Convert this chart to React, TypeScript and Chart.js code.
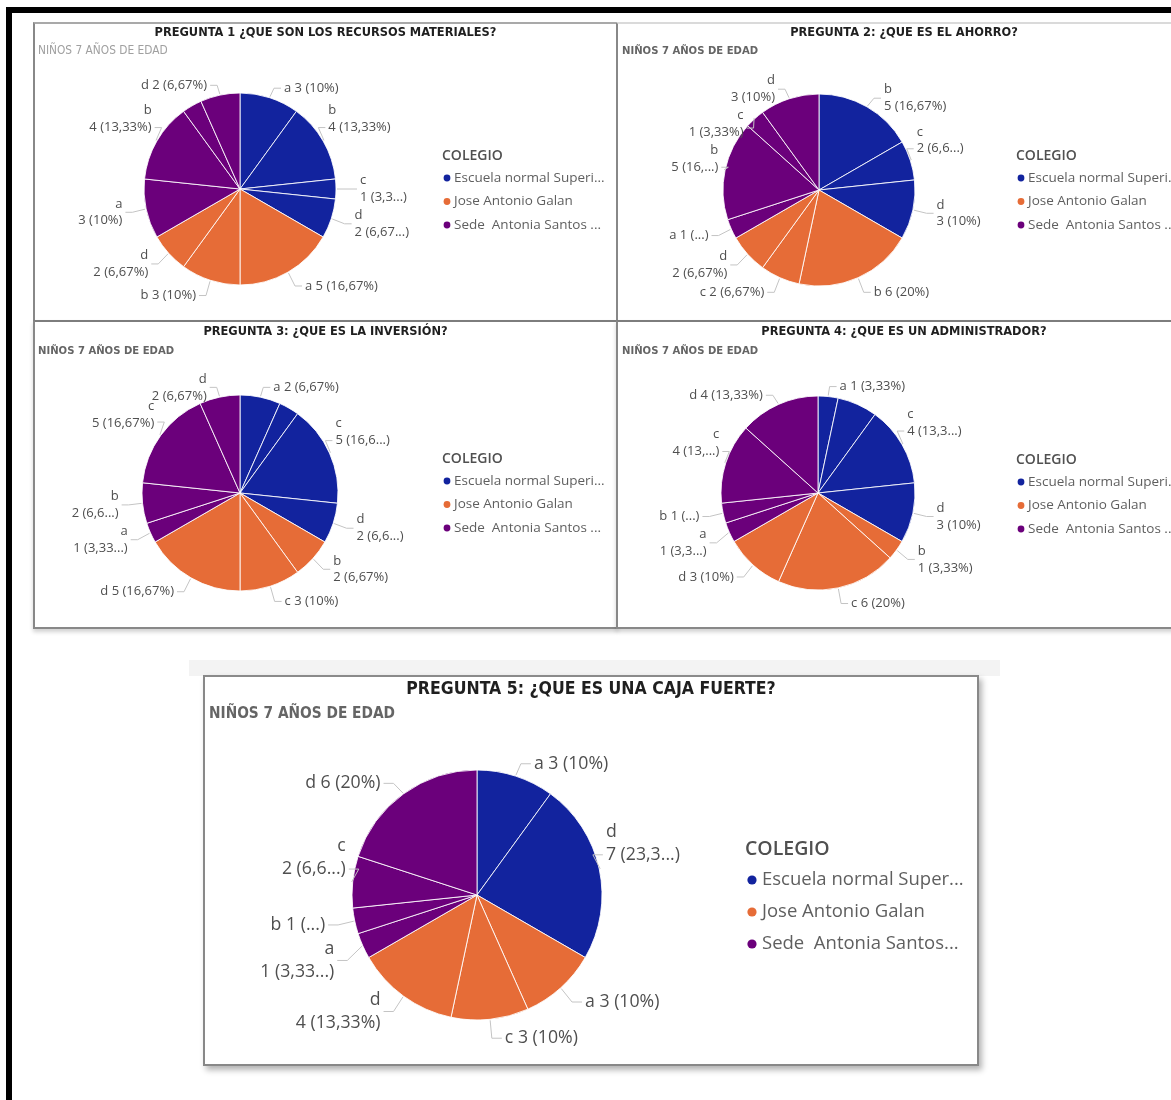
import React, { useEffect, useRef } from 'react';
import { Chart, registerables } from 'chart.js';

Chart.register(...registerables);

// ---------------- DATA ----------------
const COLORS = ['#12239E', '#E66C37', '#6B007B'];
const schools = ['Escuela normal Superi...', 'Jose Antonio Galan', 'Sede  Antonia Santos ...'];
const schools5 = ['Escuela normal Super...', 'Jose Antonio Galan', 'Sede  Antonia Santos...'];
const legendTitle = 'COLEGIO';
const subtitleText = 'NIÑOS 7 AÑOS DE EDAD';
const titles = [
  'PREGUNTA 1 ¿QUE SON LOS RECURSOS MATERIALES?',
  'PREGUNTA 2: ¿QUE ES EL AHORRO?',
  'PREGUNTA 3: ¿QUE ES LA INVERSIÓN?',
  'PREGUNTA 4: ¿QUE ES UN ADMINISTRADOR?',
  'PREGUNTA 5: ¿QUE ES UNA CAJA FUERTE?',
];

const cats1 = ['a', 'b', 'c', 'd', 'a', 'b', 'd', 'a', 'b', 'c', 'd'];
const school1 = [0, 0, 0, 0, 1, 1, 1, 2, 2, 2, 2];
const values1 = [3, 4, 1, 2, 5, 3, 2, 3, 4, 1, 2];
const labels1 = ['a 3 (10%)', 'b\n4 (13,33%)', 'c\n1 (3,3...)', 'd\n2 (6,67...)', 'a 5 (16,67%)', 'b 3 (10%)', 'd\n2 (6,67%)', 'a\n3 (10%)', 'b\n4 (13,33%)', '', 'd 2 (6,67%)'];

const cats2 = ['b', 'c', 'd', 'b', 'c', 'd', 'a', 'b', 'c', 'd'];
const school2 = [0, 0, 0, 1, 1, 1, 2, 2, 2, 2];
const values2 = [5, 2, 3, 6, 2, 2, 1, 5, 1, 3];
const labels2 = ['b\n5 (16,67%)', 'c\n2 (6,6...)', 'd\n3 (10%)', 'b 6 (20%)', 'c 2 (6,67%)', 'd\n2 (6,67%)', 'a 1 (...)', 'b\n5 (16,...)', 'c\n1 (3,33%)', 'd\n3 (10%)'];

const cats3 = ['a', 'b', 'c', 'd', 'b', 'c', 'd', 'a', 'b', 'c', 'd'];
const school3 = [0, 0, 0, 0, 1, 1, 1, 2, 2, 2, 2];
const values3 = [2, 1, 5, 2, 2, 3, 5, 1, 2, 5, 2];
const labels3 = ['a 2 (6,67%)', '', 'c\n5 (16,6...)', 'd\n2 (6,6...)', 'b\n2 (6,67%)', 'c 3 (10%)', 'd 5 (16,67%)', 'a\n1 (3,33...)', 'b\n2 (6,6...)', 'c\n5 (16,67%)', 'd\n2 (6,67%)'];

const cats4 = ['a', 'b', 'c', 'd', 'b', 'c', 'd', 'a', 'b', 'c', 'd'];
const school4 = [0, 0, 0, 0, 1, 1, 1, 2, 2, 2, 2];
const values4 = [1, 2, 4, 3, 1, 6, 3, 1, 1, 4, 4];
const labels4 = ['a 1 (3,33%)', '', 'c\n4 (13,3...)', 'd\n3 (10%)', 'b\n1 (3,33%)', 'c 6 (20%)', 'd 3 (10%)', 'a\n1 (3,3...)', 'b 1 (...)', 'c\n4 (13,...)', 'd 4 (13,33%)'];

const cats5 = ['a', 'd', 'a', 'c', 'd', 'a', 'b', 'c', 'd'];
const school5 = [0, 0, 1, 1, 1, 2, 2, 2, 2];
const values5 = [3, 7, 3, 3, 4, 1, 1, 2, 6];
const labels5 = ['a 3 (10%)', 'd\n7 (23,3...)', 'a 3 (10%)', 'c 3 (10%)', 'd\n4 (13,33%)', 'a\n1 (3,33...)', 'b 1 (...)', 'c\n2 (6,6...)', 'd 6 (20%)'];

// ---------------- STYLE ----------------
const COND = "'DejaVu Sans Condensed', 'Liberation Sans Narrow', 'Roboto Condensed', 'DejaVu Sans', sans-serif";
const BODY = "'Open Sans', 'Noto Sans', sans-serif";

const small = {
  titleFont: `bold 12.7px ${COND}`,
  subFont: `bold 11.2px ${COND}`,
  subColor: '#656565',
  labelFS: 13,
  off: 14,
  gap: 10,
  legTitleFont: `600 14px ${BODY}`,
  legFont: `13.5px ${BODY}`,
  legFirst: 22,
  legStep: 23.5,
  dotDx: 5,
  dotR: 3.4,
  textDx: 12,
};

const panels = [
  { ...small, left: 33, top: 22, w: 585, h: 300, bt: '#a9a9a9', shadow: 'none', title: titles[0], cats: cats1, sch: school1, vals: values1, labs: labels1, names: schools, titleY: 9, subX: 3, subY: 27, subFont: `11.8px ${COND}`, subColor: '#a0a0a0', cx: 205, cy: 165, r: 96, legX: 407, legTitleY: 132 },
  { ...small, left: 616, top: 22, w: 576, h: 300, bt: '#dadada', shadow: 'none', title: titles[1], cats: cats2, sch: school2, vals: values2, labs: labels2, names: schools, titleY: 9, subX: 4, subY: 27, cx: 201, cy: 166, r: 96, legX: 398, legTitleY: 132 },
  { ...small, left: 33, top: 320, w: 585, h: 309, bt: '#7d7d7d', shadow: '0 3px 4px rgba(0,0,0,0.18)', title: titles[2], cats: cats3, sch: school3, vals: values3, labs: labels3, names: schools, titleY: 10, subX: 3, subY: 29, cx: 205, cy: 171, r: 98, legX: 407, legTitleY: 137 },
  { ...small, left: 616, top: 320, w: 576, h: 309, bt: '#7d7d7d', shadow: '0 3px 4px rgba(0,0,0,0.18)', title: titles[3], cats: cats4, sch: school4, vals: values4, labs: labels4, names: schools, titleY: 10, subX: 4, subY: 29, cx: 200, cy: 171, r: 97, legX: 398, legTitleY: 138 },
  {
    left: 203, top: 675, w: 776, h: 391, bt: '#8a8a8a', shadow: '3px 4px 6px rgba(0,0,0,0.3)',
    title: titles[4], cats: cats5, sch: school5, vals: values5, labs: labels5, names: schools5,
    titleFont: `bold 17.5px ${COND}`, titleY: 12,
    subFont: `bold 15.3px ${COND}`, subColor: '#656565', subX: 4, subY: 37,
    cx: 272, cy: 218, r: 125, labelFS: 17.7, off: 17, gap: 13,
    legX: 540, legTitleY: 172, legTitleFont: `600 19.5px ${BODY}`, legFont: `18.5px ${BODY}`,
    legFirst: 31, legStep: 32, dotDx: 7, dotR: 4.6, textDx: 17,
  },
];

// ---------------- PLUGINS ----------------
const outLabels = {
  id: 'outLabels',
  afterDatasetsDraw(chart: any, _args: any, o: any) {
    const ctx = chart.ctx;
    const meta = chart.getDatasetMeta(0);
    const texts: string[] = o.texts || [];
    const fs = o.fontSize;
    const lh = fs * 1.3;
    ctx.save();
    ctx.font = `${fs}px ${BODY}`;
    const items: any[] = [];
    meta.data.forEach((arc: any, i: number) => {
      const t = texts[i];
      if (!t) return;
      const p = arc.getProps(['x', 'y', 'startAngle', 'endAngle', 'outerRadius'], true);
      const mid = (p.startAngle + p.endAngle) / 2;
      const c = Math.cos(mid);
      const s = Math.sin(mid);
      const R = p.outerRadius;
      const lines = t.split('\n');
      const h = lines.length * lh;
      const right = c >= 0;
      const dir = right ? 1 : -1;
      const upper = s < -0.05;
      const offY = upper ? o.off - 4 : o.off + 2;
      const k = Math.min(1, Math.max(0, (Math.abs(c) - 0.5) / 0.35));
      const shift = upper && lines.length > 1 ? (h / 2) * k : 0;
      const ax = p.x + (R + o.off) * c - dir * shift;
      const ay = p.y + (R + offY) * s;
      const tx = ax + dir * o.gap;
      const wMax = Math.max(...lines.map((ln: string) => ctx.measureText(ln).width));
      const x1 = right ? tx : tx - wMax;
      const x2 = right ? tx + wMax : tx;
      items.push({ lines, h, ax, ay, right, dir, shift, tx, x1, x2, cy: ay - shift, x0: p.x + (R + 1) * c, y0: p.y + (R + 1) * s });
    });
    for (const side of [true, false]) {
      const grp = items.filter((it) => it.right === side).sort((a, b) => a.cy - b.cy);
      for (let kk = 1; kk < grp.length; kk++) {
        const cur = grp[kk];
        for (let j = 0; j < kk; j++) {
          const prev = grp[j];
          const ov = Math.min(prev.x2, cur.x2) - Math.max(prev.x1, cur.x1);
          if (ov <= 8) continue;
          const minC = prev.cy + prev.h / 2 + cur.h / 2 + 1;
          if (cur.cy < minC) cur.cy = minC;
        }
      }
    }
    ctx.textBaseline = 'middle';
    for (const it of items) {
      const ly = it.cy + it.shift / 2;
      ctx.strokeStyle = '#c4c4c4';
      ctx.lineWidth = 1;
      ctx.beginPath();
      ctx.moveTo(it.x0, it.y0);
      ctx.lineTo(it.ax, ly);
      ctx.lineTo(it.ax + it.dir * (o.gap - 3), ly);
      ctx.stroke();
      ctx.fillStyle = '#4f4f4f';
      ctx.textAlign = it.right ? 'left' : 'right';
      const top = it.cy - it.h / 2;
      it.lines.forEach((ln: string, k: number) => {
        ctx.fillText(ln, it.tx, top + lh * (k + 0.5));
      });
    }
    ctx.restore();
  },
};

const panelText = {
  id: 'panelText',
  afterDraw(chart: any, _args: any, o: any) {
    const ctx = chart.ctx;
    ctx.save();
    ctx.textBaseline = 'middle';
    ctx.fillStyle = '#1f1f1f';
    ctx.font = o.titleFont;
    ctx.textAlign = 'center';
    ctx.fillText(o.title, chart.width / 2, o.titleY);
    ctx.fillStyle = o.subColor;
    ctx.font = o.subFont;
    ctx.textAlign = 'left';
    ctx.fillText(o.subtitle, o.subX, o.subY);
    ctx.fillStyle = '#505050';
    ctx.font = o.legTitleFont;
    ctx.fillText(o.legendTitle, o.legX, o.legTitleY);
    ctx.font = o.legFont;
    (o.names as string[]).forEach((name: string, i: number) => {
      const y = o.legTitleY + o.legFirst + i * o.legStep;
      ctx.fillStyle = COLORS[i];
      ctx.beginPath();
      ctx.arc(o.legX + o.dotDx, y, o.dotR, 0, Math.PI * 2);
      ctx.fill();
      ctx.fillStyle = '#5f5f5f';
      ctx.fillText(name, o.legX + o.textDx, y);
    });
    ctx.restore();
  },
};

// ---------------- COMPONENTS ----------------
function PiePanel({ cfg }: { cfg: any }) {
  const ref = useRef<HTMLCanvasElement>(null);
  const W = cfg.w - 4;
  const H = cfg.h - 4;
  useEffect(() => {
    if (!ref.current) return;
    const pr = W - 2 * cfg.cx;
    const pt = Math.max(0, 2 * cfg.cy - H);
    const pb = Math.max(0, H - 2 * cfg.cy);
    const chart = new Chart(ref.current, {
      type: 'pie',
      data: {
        labels: cfg.cats,
        datasets: [
          {
            data: cfg.vals,
            backgroundColor: cfg.sch.map((i: number) => COLORS[i]),
            borderColor: 'rgba(255,255,255,0.85)',
            borderWidth: 1,
            radius: cfg.r,
          } as any,
        ],
      },
      options: {
        responsive: false,
        animation: false,
        events: [],
        layout: { padding: { left: 0, right: pr, top: pt, bottom: pb } },
        plugins: {
          legend: { display: false },
          tooltip: { enabled: false },
          title: { display: false },
          outLabels: { texts: cfg.labs, fontSize: cfg.labelFS, off: cfg.off, gap: cfg.gap },
          panelText: {
            title: cfg.title, titleFont: cfg.titleFont, titleY: cfg.titleY,
            subtitle: subtitleText, subFont: cfg.subFont, subColor: cfg.subColor, subX: cfg.subX, subY: cfg.subY,
            legendTitle, legTitleFont: cfg.legTitleFont, legFont: cfg.legFont, legX: cfg.legX, legTitleY: cfg.legTitleY,
            legFirst: cfg.legFirst, legStep: cfg.legStep, dotDx: cfg.dotDx, dotR: cfg.dotR, textDx: cfg.textDx,
            names: cfg.names,
          },
        } as any,
      },
      plugins: [outLabels, panelText],
    });
    return () => chart.destroy();
  }, []);
  return (
    <div
      style={{
        position: 'absolute', left: cfg.left, top: cfg.top, width: cfg.w, height: cfg.h,
        boxSizing: 'border-box', border: '2px solid #888888', borderTopColor: cfg.bt,
        background: '#ffffff', boxShadow: cfg.shadow,
      }}
    >
      <canvas ref={ref} width={W} height={H} style={{ display: 'block' }} />
    </div>
  );
}

export default function App() {
  return (
    <div style={{ position: 'absolute', left: 0, top: 0, width: 1171, height: 1100, overflow: 'hidden', background: '#ffffff' }}>
      <div style={{ position: 'absolute', left: 189, top: 660, width: 811, height: 16, background: '#f3f3f3' }} />
      {panels.map((p, i) => (
        <PiePanel key={i} cfg={p} />
      ))}
      <div style={{ position: 'absolute', left: 6, top: 7, width: 1165, height: 6, background: '#000' }} />
      <div style={{ position: 'absolute', left: 6, top: 7, width: 6, height: 1093, background: '#000' }} />
    </div>
  );
}
